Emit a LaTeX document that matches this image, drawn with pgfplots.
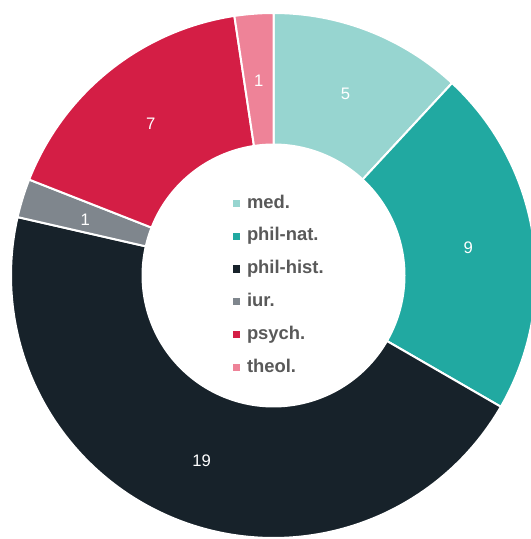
\documentclass[border=0pt]{standalone}
\usepackage{fontspec}
\setmainfont{Liberation Sans}
\usepackage{pgfplots}
\pgfplotsset{compat=1.18}
\definecolor{cmed}{HTML}{97D5D0}
\definecolor{cnat}{HTML}{21A9A1}
\definecolor{chist}{HTML}{17222A}
\definecolor{ciur}{HTML}{7F868D}
\definecolor{cpsy}{HTML}{D41E45}
\definecolor{ctheo}{HTML}{EE8398}
\definecolor{legtext}{HTML}{595959}
\begin{document}
\begin{tikzpicture}
\def\cx{273.5}
\def\cy{263.5}
\def\R{262.5}
\def\r{132}
\def\rl{197}
% data values
\def\vA{5}\def\vB{9}\def\vC{19}\def\vD{1}\def\vE{7}\def\vF{1}
\pgfmathsetmacro\tot{\vA+\vB+\vC+\vD+\vE+\vF}
\pgfmathsetmacro\aA{90}
\pgfmathsetmacro\aB{\aA-360*\vA/\tot}
\pgfmathsetmacro\aC{\aB-360*\vB/\tot}
\pgfmathsetmacro\aD{\aC-360*\vC/\tot}
\pgfmathsetmacro\aE{\aD-360*\vD/\tot}
\pgfmathsetmacro\aF{\aE-360*\vE/\tot}
\pgfmathsetmacro\aG{\aF-360*\vF/\tot}
\pgfmathsetmacro\mA{(\aA+\aB)/2}
\pgfmathsetmacro\mB{(\aB+\aC)/2}
\pgfmathsetmacro\mC{(\aC+\aD)/2}
\pgfmathsetmacro\mD{(\aD+\aE)/2}
\pgfmathsetmacro\mE{(\aE+\aF)/2}
\pgfmathsetmacro\mF{(\aF+\aG)/2}
\begin{axis}[
  scale only axis, width=398.25pt, height=404.25pt,
  xmin=0, xmax=531, ymin=0, ymax=539,
  hide axis, clip=true,
  legend cell align=left,
  legend image code/.code={\fill[#1, draw=none] (0pt,-2.6pt) rectangle (5.3pt,2.7pt);},
  legend style={draw=none, fill=none, at={(axis cs:229,253.5)}, anchor=west,
    font=\bfseries\fontsize{13.8}{16}\selectfont, text=legtext,
    row sep=10.6pt, column sep=5pt,
    nodes={inner sep=0pt, text height=10.5pt, text depth=3.5pt}},
]
\addplot[fill=cmed, draw=white, line width=1.5pt, domain=\aB:\aA, samples=80] ({\cx+\R*cos(x)},{\cy+\R*sin(x)}) -- (axis cs:\cx,\cy) -- cycle;
\addlegendentry{med.}
\addplot[fill=cnat, draw=white, line width=1.5pt, domain=\aC:\aB, samples=80] ({\cx+\R*cos(x)},{\cy+\R*sin(x)}) -- (axis cs:\cx,\cy) -- cycle;
\addlegendentry{phil-nat.}
\addplot[fill=chist, draw=white, line width=1.5pt, domain=\aD:\aC, samples=150] ({\cx+\R*cos(x)},{\cy+\R*sin(x)}) -- (axis cs:\cx,\cy) -- cycle;
\addlegendentry{phil-hist.}
\addplot[fill=ciur, draw=white, line width=1.5pt, domain=\aE:\aD, samples=20] ({\cx+\R*cos(x)},{\cy+\R*sin(x)}) -- (axis cs:\cx,\cy) -- cycle;
\addlegendentry{iur.}
\addplot[fill=cpsy, draw=white, line width=1.5pt, domain=\aF:\aE, samples=80] ({\cx+\R*cos(x)},{\cy+\R*sin(x)}) -- (axis cs:\cx,\cy) -- cycle;
\addlegendentry{psych.}
\addplot[fill=ctheo, draw=white, line width=1.5pt, domain=\aG:\aF, samples=20] ({\cx+\R*cos(x)},{\cy+\R*sin(x)}) -- (axis cs:\cx,\cy) -- cycle;
\addlegendentry{theol.}
\addplot[forget plot, fill=white, draw=none, domain=0:360, samples=200] ({\cx+\r*cos(x)},{\cy+\r*sin(x)}) -- cycle;
\tikzset{vlab/.style={text=white, font=\fontsize{12.5}{14}\selectfont, inner sep=0pt}}
\node[vlab] at (axis cs:{\cx+\rl*cos(\mA)},{\cy-2+\rl*sin(\mA)}) {\vA};
\node[vlab] at (axis cs:{\cx+\rl*cos(\mB)},{\cy-2+\rl*sin(\mB)}) {\vB};
\node[vlab] at (axis cs:{\cx+\rl*cos(\mC)},{\cy-2+\rl*sin(\mC)}) {\vC};
\node[vlab] at (axis cs:{\cx+\rl*cos(\mD)},{\cy-2+\rl*sin(\mD)}) {\vD};
\node[vlab] at (axis cs:{\cx+\rl*cos(\mE)},{\cy-2+\rl*sin(\mE)}) {\vE};
\node[vlab] at (axis cs:{\cx+\rl*cos(\mF)},{\cy-2+\rl*sin(\mF)}) {\vF};
\end{axis}
\pgfresetboundingbox
\useasboundingbox (current axis.south west) rectangle (current axis.north east);
\end{tikzpicture}
\end{document}
